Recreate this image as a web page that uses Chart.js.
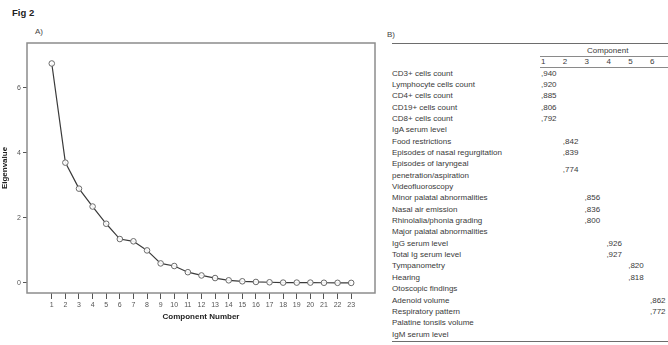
<!DOCTYPE html>
<html>
<head>
<meta charset="utf-8">
<script src="https://cdn.jsdelivr.net/npm/chart.js@4/dist/chart.umd.min.js"></script>
<style>
  html, body { margin:0; padding:0; background:#fff; }
  body { width:668px; height:345px; position:relative; overflow:hidden; font-family:"Liberation Sans", Arial, sans-serif; color:#333; }
  .abs { position:absolute; white-space:nowrap; }
  #chartBox { position:absolute; left:0; top:0; width:380px; height:345px; }
  .rule { position:absolute; height:0; border-top:1px solid #777; }
  .cell { position:absolute; font-size:8px; line-height:11.35px; white-space:nowrap; color:#3a3a3a; }
</style>
</head>
<body>
<div class="abs" style="left:12px;top:7px;font-size:9.5px;font-weight:bold;color:#222;">Fig 2</div>
<div class="abs" style="left:35px;top:27px;font-size:8px;color:#444;">A)</div>
<div class="abs" style="left:387px;top:30px;font-size:8px;color:#444;">B)</div>
<div id="chartBox"><canvas id="c" width="380" height="345"></canvas></div>
<div id="table"></div>
<script>
// ---------- data ----------
const componentNumbers = [1,2,3,4,5,6,7,8,9,10,11,12,13,14,15,16,17,18,19,20,21,22,23];
const eigenvalues = [6.75,3.70,2.90,2.35,1.82,1.35,1.28,1.00,0.60,0.52,0.33,0.23,0.15,0.08,0.05,0.03,0.02,0.01,0.01,0.01,0.005,0.003,0.001];
const yTickValues = [0,2,4,6];

const componentLabels = ['1','2','3','4','5','6'];
const variableNames = [
  ['CD3+ cells count'],
  ['Lymphocyte cells count'],
  ['CD4+ cells count'],
  ['CD19+ cells count'],
  ['CD8+ cells count'],
  ['IgA serum level'],
  ['Food restrictions'],
  ['Episodes of nasal regurgitation'],
  ['Episodes of laryngeal','penetration/aspiration'],
  ['Videofluoroscopy'],
  ['Minor palatal abnormalities'],
  ['Nasal air emission'],
  ['Rhinolalia/phonia grading'],
  ['Major palatal abnormalities'],
  ['IgG serum level'],
  ['Total Ig serum level'],
  ['Tympanometry'],
  ['Hearing'],
  ['Otoscopic findings'],
  ['Adenoid volume'],
  ['Respiratory pattern'],
  ['Palatine tonsils volume'],
  ['IgM serum level']
];
const loadingComponent = [1,1,1,1,1,null,2,2,2,null,3,3,3,null,4,4,5,5,null,6,6,null,null];
const loadingValue = [',940',',920',',885',',806',',792','',',842',',839',',774','',',856',',836',',800','',',926',',927',',820',',818','',',862',',772','',''];

// ---------- chart ----------
const framePlugin = {
  id:'frame',
  afterDraw(chart){
    const a = chart.chartArea, ctx = chart.ctx;
    ctx.save();
    ctx.strokeStyle = '#8c8c8c';
    ctx.lineWidth = 1.5;
    ctx.strokeRect(a.left, a.top, a.right - a.left, a.bottom - a.top);
    ctx.restore();
  }
};

new Chart(document.getElementById('c'), {
  type:'line',
  data:{
    datasets:[{
      data: componentNumbers.map((c,i)=>({x:c, y:eigenvalues[i]})),
      borderColor:'#3a3a3a',
      borderWidth:1.2,
      pointRadius:2.8,
      pointBorderColor:'#6a6a6a',
      pointBackgroundColor:'rgba(255,255,255,0.9)',
      pointBorderWidth:1,
      tension:0
    }]
  },
  plugins:[framePlugin],
  options:{
    responsive:false,
    devicePixelRatio:1,
    animation:false,
    plugins:{ legend:{display:false}, tooltip:{enabled:false} },
    layout:{ padding:{ top:43, right:3, bottom:22, left:0 } },
    scales:{
      x:{
        type:'linear',
        min:-0.82, max:24.75,
        afterBuildTicks: s => { s.ticks = componentNumbers.map(v=>({value:v})); },
        afterFit: s => { s.height = 30; },
        ticks:{ autoSkip:false, maxRotation:0, padding:2, color:'#555', font:{family:'Liberation Sans', size:7} },
        grid:{ drawOnChartArea:false, drawTicks:true, tickLength:6, color:'#555' },
        border:{ display:false },
        title:{ display:true, text:'Component Number', color:'#222', padding:{top:0,bottom:1},
                font:{family:'Liberation Sans', size:8, weight:'bold'} }
      },
      y:{
        type:'linear',
        min:-0.31, max:7.38,
        afterBuildTicks: s => { s.ticks = yTickValues.map(v=>({value:v})); },
        afterFit: s => { s.width = 27; },
        ticks:{ padding:2, color:'#555', font:{family:'Liberation Sans', size:7} },
        grid:{ drawOnChartArea:false, drawTicks:true, tickLength:4, color:'#555' },
        border:{ display:false },
        title:{ display:true, text:'Eigenvalue', color:'#222', padding:{top:0,bottom:0},
                font:{family:'Liberation Sans', size:8, weight:'bold'} }
      }
    }
  }
});

// ---------- table ----------
const tbl = document.getElementById('table');
function add(el){ tbl.appendChild(el); return el; }
function rule(x1, x2, y, w, col){
  const d = document.createElement('div');
  d.className = 'rule';
  d.style.left = x1+'px'; d.style.width = (x2-x1)+'px'; d.style.top = y+'px';
  d.style.borderTop = w+'px solid '+col;
  add(d);
}
function cell(text, x, y, extra){
  const d = document.createElement('div');
  d.className = 'cell';
  d.textContent = text;
  d.style.left = x+'px'; d.style.top = y+'px';
  if (extra) Object.assign(d.style, extra);
  return add(d);
}
const LH = 11.35;
const colX0 = 541, colStep = 21.8;
rule(392, 668, 42.5, 1.5, '#6d6d6d');
cell('Component', 587, 44.5);
rule(540, 668, 55.5, 1, '#8a8a8a');
componentLabels.forEach((t,i)=> cell(t, colX0 + i*colStep, 56));
rule(540, 668, 67, 1, '#8a8a8a');
let y = 67.5;
variableNames.forEach((lines, i) => {
  lines.forEach((ln, k) => cell(ln, 392, y + k*LH));
  const c = loadingComponent[i];
  if (c !== null) {
    const vy = y + (lines.length - 1) * LH / 2;
    cell(loadingValue[i], colX0 + (c-1)*colStep, vy);
  }
  y += lines.length * LH;
});
rule(392, 668, 341, 1.5, '#6d6d6d');
</script>
</body>
</html>
